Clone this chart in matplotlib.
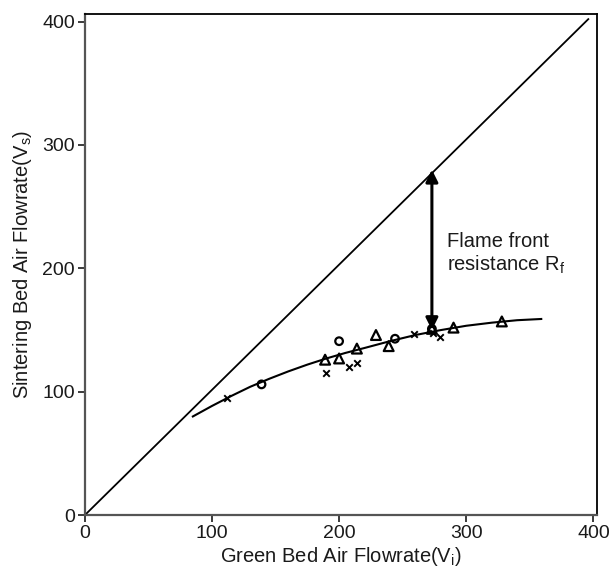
import matplotlib
matplotlib.use("Agg")
import matplotlib.pyplot as plt

plt.rcParams['font.family'] = ['Liberation Sans', 'DejaVu Sans']
plt.rcParams['mathtext.fontset'] = 'custom'
plt.rcParams['mathtext.rm'] = 'Liberation Sans'
plt.rcParams['mathtext.it'] = 'Liberation Sans'

# Data
cross_x = [112, 190, 208, 214, 259, 274, 279]
cross_y = [95, 115, 120, 123, 147, 148, 144]
circle_x = [139, 200, 244, 273]
circle_y = [106, 141, 143, 151]
tri_x = [189, 200, 214, 229, 239, 273, 290, 328]
tri_y = [126, 127, 135, 146, 137, 151, 152, 157]
curve_x = [85, 100, 115, 130, 145, 160, 175, 190, 205, 220, 240, 260, 280, 300, 320, 340, 359]
curve_y = [80, 88.5, 96.5, 104, 110.5, 116.5, 122, 127, 131.5, 135.5, 141, 146, 150, 153.5, 156, 158, 159]
diag_x = [0, 396]
diag_y = [0, 402]
arrow_x = 273
arrow_lo, arrow_hi = 150, 280
xticks = [0, 100, 200, 300, 400]
yticks = [0, 100, 200, 300, 400]

fig = plt.figure(figsize=(6.1, 5.68), dpi=100)
ax = fig.add_axes([0.139, 0.093, 0.840, 0.882])

ax.plot(diag_x, diag_y, color='black', lw=1.3)
ax.plot(curve_x, curve_y, color='black', lw=1.5)
ax.scatter(cross_x, cross_y, marker='x', s=22, color='black', linewidths=1.4, zorder=3)
ax.scatter(circle_x, circle_y, marker='o', s=30, facecolors='none', edgecolors='black', linewidths=1.6, zorder=3)
ax.scatter(tri_x, tri_y, marker='^', s=50, facecolors='none', edgecolors='black', linewidths=1.6, zorder=3)

ax.annotate('', xy=(arrow_x, arrow_hi), xytext=(arrow_x, arrow_lo),
            arrowprops=dict(arrowstyle='<|-|>', color='black', lw=2.2, mutation_scale=18,
                            shrinkA=0, shrinkB=0))
ax.text(285, 212, 'Flame front\nresistance R$_\\mathregular{f}$', fontsize=14.5,
        ha='left', va='center', color='#1a1a1a', linespacing=1.15)

ax.set_xlim(0, 403)
ax.set_ylim(0, 406)
ax.set_xticks(xticks)
ax.set_yticks(yticks)
ax.tick_params(axis='both', labelsize=14, length=5, width=1.2, direction='out',
               colors='#1a1a1a', top=False, right=False, pad=2)
for s in ['left', 'bottom']:
    ax.spines[s].set_color('#555555')
    ax.spines[s].set_linewidth(1.6)
for s in ['top', 'right']:
    ax.spines[s].set_color('black')
    ax.spines[s].set_linewidth(1.3)

ax.set_xlabel('Green Bed Air Flowrate(V$_\\mathregular{i}$)', fontsize=14.5, color='#1a1a1a', labelpad=2)
ax.set_ylabel('Sintering Bed Air Flowrate(V$_\\mathregular{s}$)', fontsize=14.5, color='#1a1a1a', labelpad=6)

fig.savefig('out.png', dpi=100)
